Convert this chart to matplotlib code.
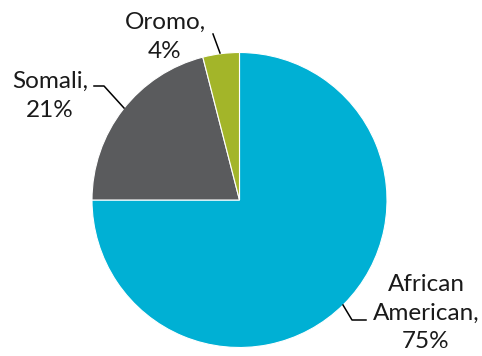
import matplotlib
matplotlib.use("Agg")
import matplotlib.pyplot as plt

# ethnic groups, drawn clockwise from 12 o'clock
groups = ["African\nAmerican", "Somali", "Oromo"]
shares = [75, 21, 4]
colors = ["#00B0D4", "#5A5B5D", "#A3B529"]

W, H = 482, 356
fig = plt.figure(figsize=(W / 100, H / 100), dpi=100)
ax = fig.add_axes([0, 0, 1, 1])

cx, cy, r = 239.5, H - 200, 147.5
ax.pie(shares, colors=colors, startangle=90, counterclock=False,
       center=(cx, cy), radius=r, frame=True,
       wedgeprops=dict(edgecolor="white", linewidth=0.8))
ax.set_xlim(0, W)
ax.set_ylim(0, H)
ax.set_aspect("equal")
ax.axis("off")

font = dict(family="Lato", fontsize=17.5, color="#1a1a1a", ha="center",
            va="center", linespacing=1.45)

# labels with their leader lines (pixel positions, y measured from top)
labels = [
    (f"{groups[0]},\n{shares[0]}%", (426, 313), [(343, 305), (352, 320), (366, 320)]),
    (f"{groups[1]},\n{shares[1]}%", (50, 96), [(94, 86), (104, 86), (124, 108)]),
    (f"{groups[2]},\n{shares[2]}%", (165, 37), [(213, 34), (220, 53)]),
]
for text, (tx, ty), pts in labels:
    ax.text(tx, H - ty, text, **font)
    xs = [p[0] for p in pts]
    ys = [H - p[1] for p in pts]
    ax.plot(xs, ys, color="black", linewidth=1.1)

fig.savefig("out.png", dpi=100)
